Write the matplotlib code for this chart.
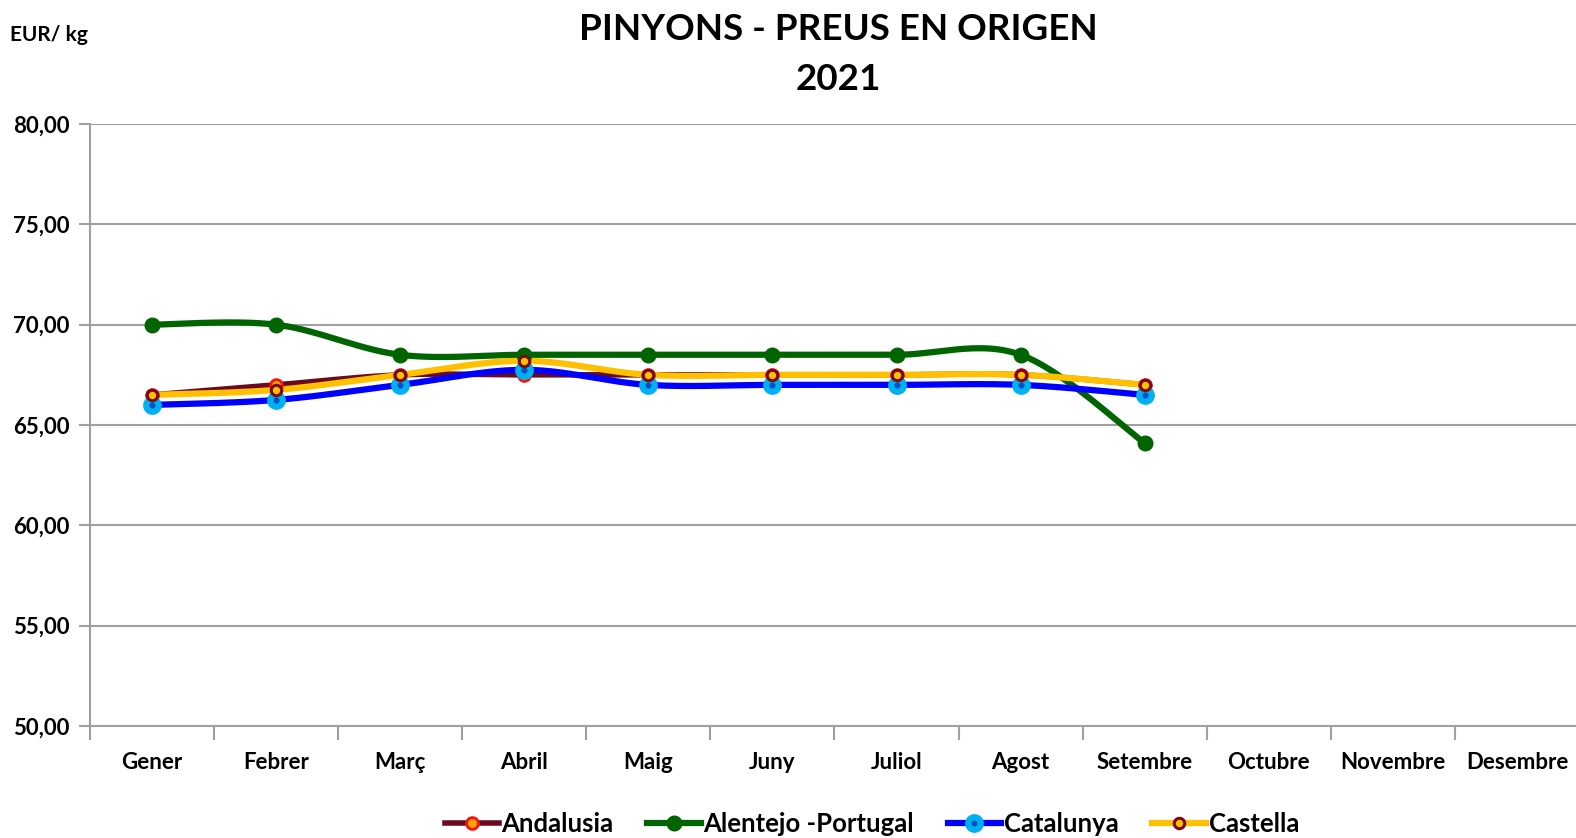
import matplotlib
matplotlib.use("Agg")
import matplotlib.pyplot as plt
from matplotlib.lines import Line2D
import numpy as np

plt.rcParams["font.family"] = ["Lato", "DejaVu Sans"]
plt.rcParams["font.weight"] = "bold"

# ---------------------------------------------------------------------------
# Data
# ---------------------------------------------------------------------------
months = ["Gener", "Febrer", "Març", "Abril", "Maig", "Juny", "Juliol",
          "Agost", "Setembre", "Octubre", "Novembre", "Desembre"]

andalusia = [66.5, 67.0, 67.5, 67.5, 67.5, 67.5, 67.5, 67.5, 67.0]
alentejo = [70.0, 70.0, 68.5, 68.5, 68.5, 68.5, 68.5, 68.5, 64.1]
catalunya = [66.0, 66.25, 67.0, 67.75, 67.0, 67.0, 67.0, 67.0, 66.5]
castella = [66.5, 66.75, 67.5, 68.2, 67.5, 67.5, 67.5, 67.5, 67.0]

yticks = [50, 55, 60, 65, 70, 75, 80]


def smooth(xs, ys, n=30):
    """Excel-like smoothed line: cubic Bezier with Catmull-Rom tangents."""
    xs = np.asarray(xs, float)
    ys = np.asarray(ys, float)
    px, py = [], []
    for i in range(len(xs) - 1):
        i0, i3 = max(i - 1, 0), min(i + 2, len(xs) - 1)
        c1x = xs[i] + (xs[i + 1] - xs[i0]) / 6
        c1y = ys[i] + (ys[i + 1] - ys[i0]) / 6
        c2x = xs[i + 1] - (xs[i3] - xs[i]) / 6
        c2y = ys[i + 1] - (ys[i3] - ys[i]) / 6
        t = np.linspace(0, 1, n)
        b0, b1, b2, b3 = (1 - t) ** 3, 3 * t * (1 - t) ** 2, 3 * t ** 2 * (1 - t), t ** 3
        px.extend(b0 * xs[i] + b1 * c1x + b2 * c2x + b3 * xs[i + 1])
        py.extend(b0 * ys[i] + b1 * c1y + b2 * c2y + b3 * ys[i + 1])
    return px, py


fig = plt.figure(figsize=(15.76, 8.38), dpi=100)
# axes runs a few pixels past the right edge, as in the original
ax = fig.add_axes([90 / 1576, 1 - 726 / 838, 1489 / 1576, (726 - 124) / 838])

series = [
    ("Andalusia", andalusia, dict(color="#6B0A1E", lw=4,
                                  marker=dict(marker="o", ms=8.5, mfc="#FFA500", mec="#FF1010", mew=2))),
    ("Alentejo -Portugal", alentejo, dict(color="#006400", lw=4.5,
                                          marker=dict(marker="o", ms=10.5, mfc="#006400", mec="#006400", mew=1))),
    ("Catalunya", catalunya, dict(color="#0000FF", lw=4.5,
                                  marker=dict(marker="o", ms=9, mfc="#0050C8", mec="#00B0F0", mew=4.5))),
    ("Castella", castella, dict(color="#FFC000", lw=4.5,
                                marker=dict(marker="o", ms=7.5, mfc="#FFC000", mec="#7A0A14", mew=2.2))),
]

handles = []
for name, vals, st in series:
    x = np.arange(len(vals))
    sx, sy = smooth(x, vals)
    ax.plot(sx, sy, color=st["color"], lw=st["lw"], solid_capstyle="round", zorder=3)
    ax.plot(x, vals, ls="none", zorder=4, **st["marker"])
    handles.append(Line2D([0], [0], color=st["color"], lw=st["lw"], **st["marker"]))

ax.set_xlim(-0.5, 11.5)
ax.set_ylim(50, 80)
ax.set_yticks(yticks)
ax.set_yticklabels([f"{v:.2f}".replace(".", ",") for v in yticks], fontsize=16, fontweight="bold")
ax.set_xticks(np.arange(len(months)))
ax.set_xticklabels(months, fontsize=16, fontweight="bold")
ax.set_xticks(np.arange(-0.5, 12, 1), minor=True)
ax.tick_params(axis="x", which="major", length=0, pad=19)
ax.tick_params(axis="x", which="minor", length=10, width=1.5, color="#A0A0A0", direction="out")
ax.tick_params(axis="y", length=8, width=1.5, color="#A0A0A0", pad=7)

ax.grid(axis="y", color="#A0A0A0", lw=1.5)
ax.set_axisbelow(True)
for side in ("top", "right"):
    ax.spines[side].set_visible(False)
for side in ("left", "bottom"):
    ax.spines[side].set_color("#A0A0A0")
    ax.spines[side].set_linewidth(1.5)

fig.text(838 / 1576, 1 - 30 / 838, "PINYONS - PREUS EN ORIGEN", ha="center", va="center",
         fontsize=26.5, fontweight="bold")
fig.text(838 / 1576, 1 - 80 / 838, "2021", ha="center", va="center",
         fontsize=26.5, fontweight="bold")
fig.text(10 / 1576, 1 - 35 / 838, "EUR/ kg", ha="left", va="center",
         fontsize=15, fontweight="bold")

fig.legend(handles, [s[0] for s in series], loc="center", bbox_to_anchor=(872 / 1576, 1 - 824 / 838),
           ncol=4, frameon=False, handlelength=2.1, handletextpad=0.1,
           columnspacing=1.3, prop=dict(weight="bold", size=18.5))

fig.savefig("out.png", dpi=100)
